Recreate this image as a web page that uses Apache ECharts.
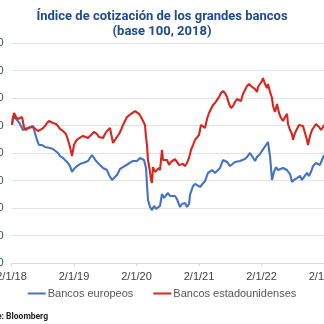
<!DOCTYPE html>
<html><head><meta charset="utf-8">
<script src="https://cdn.jsdelivr.net/npm/echarts@6/dist/echarts.min.js"></script>
<style>html,body{margin:0;padding:0;background:#fff}#c{width:324px;height:324px}</style>
</head><body><div id="c"></div>
<script>
const titleText = "Índice de cotización de los grandes bancos\n(base 100, 2018)";
const sourceText = "Fuente: Bloomberg";
const seriesNames = ["Bancos europeos", "Bancos estadounidenses"];
const yTicks = [0, 20, 40, 60, 80, 100, 120, 140, 160];
const xTickYears = [2018, 2019, 2020, 2021, 2022, 2023];

const euYears = [2018.008,2018.024,2018.056,2018.088,2018.136,2018.184,2018.216,2018.264,2018.296,2018.344,2018.376,2018.408,2018.440,2018.488,2018.536,2018.568,2018.616,2018.664,2018.696,2018.744,2018.776,2018.824,2018.856,2018.904,2018.936,2018.968,2019.000,2019.048,2019.096,2019.144,2019.176,2019.224,2019.256,2019.288,2019.320,2019.352,2019.384,2019.416,2019.464,2019.496,2019.528,2019.560,2019.608,2019.640,2019.688,2019.736,2019.784,2019.816,2019.864,2019.896,2019.944,2019.976,2020.008,2020.056,2020.088,2020.120,2020.152,2020.168,2020.184,2020.216,2020.248,2020.280,2020.312,2020.344,2020.376,2020.408,2020.440,2020.472,2020.504,2020.536,2020.568,2020.616,2020.648,2020.696,2020.728,2020.776,2020.808,2020.840,2020.856,2020.904,2020.936,2020.968,2021.016,2021.048,2021.096,2021.144,2021.176,2021.208,2021.256,2021.304,2021.336,2021.384,2021.416,2021.448,2021.496,2021.528,2021.576,2021.608,2021.656,2021.688,2021.736,2021.768,2021.816,2021.848,2021.896,2021.928,2021.976,2022.008,2022.040,2022.072,2022.104,2022.136,2022.168,2022.200,2022.232,2022.264,2022.296,2022.344,2022.376,2022.408,2022.456,2022.488,2022.520,2022.568,2022.616,2022.648,2022.680,2022.728,2022.760,2022.792,2022.824,2022.872,2022.904,2022.936,2022.968,2023.000];
const euValues = [100.4,106.9,107.6,104.0,101.1,96.7,95.3,98.2,98.9,99.6,98.2,89.5,85.8,85.8,84.4,85.8,83.6,82.9,82.2,80.0,77.8,76.4,74.9,72.7,70.5,66.2,68.4,70.5,72.0,72.7,72.7,74.2,76.4,78.5,76.4,74.2,72.7,71.3,69.1,69.1,67.6,64.0,60.4,61.8,64.0,68.4,69.8,70.5,72.0,72.7,74.2,74.9,74.2,76.4,77.8,74.9,69.1,56.7,45.8,40.7,38.5,41.5,39.3,38.5,41.5,50.2,47.3,48.7,50.9,48.7,48.0,48.7,46.5,40.7,42.9,43.6,40.7,42.9,49.5,56.0,57.5,58.2,55.3,56.0,59.6,65.5,66.9,67.6,65.5,67.6,69.1,74.9,74.2,73.5,70.5,69.8,73.5,74.9,74.2,73.5,75.6,77.1,80.0,77.8,74.2,77.1,79.3,81.5,82.9,85.8,88.0,77.8,60.4,66.2,69.8,67.6,66.2,69.1,68.4,67.6,64.7,58.9,60.4,61.8,63.3,60.4,59.6,65.5,63.3,66.2,70.5,72.7,72.0,71.3,74.9,78.5];

const usYears = [2018.008,2018.040,2018.072,2018.104,2018.136,2018.168,2018.200,2018.232,2018.264,2018.296,2018.344,2018.376,2018.424,2018.456,2018.488,2018.536,2018.568,2018.600,2018.632,2018.664,2018.712,2018.744,2018.776,2018.824,2018.872,2018.904,2018.936,2018.968,2019.000,2019.032,2019.064,2019.096,2019.144,2019.176,2019.224,2019.256,2019.288,2019.320,2019.368,2019.400,2019.432,2019.464,2019.496,2019.528,2019.576,2019.608,2019.624,2019.656,2019.688,2019.720,2019.752,2019.784,2019.816,2019.848,2019.880,2019.912,2019.944,2019.976,2020.008,2020.040,2020.072,2020.104,2020.136,2020.152,2020.168,2020.184,2020.216,2020.232,2020.248,2020.264,2020.296,2020.328,2020.360,2020.376,2020.408,2020.424,2020.456,2020.488,2020.520,2020.552,2020.584,2020.616,2020.648,2020.680,2020.712,2020.744,2020.776,2020.808,2020.840,2020.872,2020.904,2020.936,2020.968,2021.000,2021.032,2021.064,2021.096,2021.128,2021.160,2021.192,2021.224,2021.256,2021.288,2021.320,2021.352,2021.384,2021.416,2021.448,2021.480,2021.512,2021.544,2021.576,2021.608,2021.640,2021.672,2021.704,2021.736,2021.768,2021.800,2021.832,2021.864,2021.896,2021.928,2021.944,2021.976,2022.008,2022.024,2022.056,2022.088,2022.104,2022.136,2022.168,2022.184,2022.216,2022.248,2022.280,2022.312,2022.344,2022.376,2022.408,2022.424,2022.456,2022.488,2022.504,2022.536,2022.568,2022.600,2022.632,2022.664,2022.696,2022.728,2022.744,2022.776,2022.808,2022.840,2022.872,2022.888,2022.920,2022.952,2022.984,2023.000];
const usValues = [100.4,109.1,106.2,104.7,105.5,106.2,98.9,96.7,98.2,98.2,98.9,98.2,96.0,95.3,97.5,99.6,101.8,103.3,102.5,101.8,101.1,99.6,97.5,96.0,93.8,89.5,84.4,77.8,85.8,88.7,90.2,91.6,92.4,93.1,90.9,90.2,93.8,95.3,93.8,91.6,90.9,90.9,93.8,96.0,98.2,90.9,87.3,89.5,90.9,93.8,96.7,100.4,103.3,106.2,106.9,108.4,109.1,110.5,111.3,108.4,106.2,105.5,100.4,91.6,85.8,74.9,66.2,60.4,58.2,69.8,66.2,65.5,69.1,67.6,82.2,74.9,73.5,74.9,71.3,73.5,74.9,75.6,74.2,71.3,72.7,72.0,70.5,72.7,76.4,82.2,85.8,89.5,90.2,93.1,100.4,101.8,98.2,104.7,109.1,112.0,114.9,116.4,117.8,120.7,123.6,125.1,123.6,120.7,115.6,112.7,114.2,117.1,119.3,120.7,117.8,122.9,125.8,128.7,130.2,128.7,128.7,126.5,124.4,128.0,130.2,132.4,134.5,130.2,127.3,130.2,124.4,120.0,114.2,109.8,115.6,109.1,105.5,103.3,106.2,108.4,101.1,96.7,93.8,89.5,94.5,97.5,100.4,101.8,99.6,94.5,89.5,85.8,92.4,96.7,98.9,101.1,102.5,98.9,96.7,98.9,100.4];

const zip = (xs, ys) => xs.map((x, i) => [x, ys[i]]);
const chart = echarts.init(document.getElementById('c'), null, {renderer: 'canvas'});
const fontFam = 'Liberation Sans, Arial, sans-serif';
chart.setOption({
  animation: false,
  backgroundColor: '#ffffff',
  title: {
    text: titleText, left: 'center', top: 4,
    textStyle: {fontFamily: 'Liberation Sans Narrow, Roboto, sans-serif', fontWeight: 'bold', fontSize: 13, lineHeight: 15, color: '#1F4A8C'}
  },
  legend: {
    bottom: 20, left: 'center', itemWidth: 18, itemHeight: 2, itemGap: 20, icon: 'rect',
    textStyle: {fontFamily: fontFam, fontSize: 11, color: '#555555', padding: [0, 0, 0, -3]},
    data: seriesNames
  },
  graphic: [{type: 'text', x: 48, y: 312, style: {text: sourceText, align: 'right', fill: '#222', font: 'bold 8.5px "Liberation Sans Narrow", Roboto, sans-serif'}}],
  grid: {left: 11.5, top: 43, width: 62.5 * 5.2, height: 220, containLabel: false, outerBoundsMode: 'none'},
  xAxis: {
    type: 'value', min: xTickYears[0], max: 2023.2, interval: 1,
    axisLine: {lineStyle: {color: '#D9D9D9'}},
    axisTick: {show: true, length: 3, lineStyle: {color: '#D9D9D9'}},
    splitLine: {show: false},
    axisLabel: {margin: 8, fontFamily: fontFam, fontSize: 11, color: '#404040', hideOverlap: false,
      formatter: v => (Math.abs(v - Math.round(v)) < 1e-6 && xTickYears.includes(Math.round(v))) ? '2/1/' + String(Math.round(v) - 2000) : ''}
  },
  yAxis: {
    type: 'value', min: yTicks[0], max: yTicks[yTicks.length - 1], interval: 20,
    axisLine: {show: false}, axisTick: {show: false},
    splitLine: {lineStyle: {color: '#E3E3E3', width: 1}},
    axisLabel: {margin: 8, fontFamily: fontFam, fontSize: 11, color: '#3B4A6B'}
  },
  series: [
    {name: seriesNames[0], type: 'line', data: zip(euYears, euValues), showSymbol: false, lineStyle: {color: '#4472C4', width: 2.1}, itemStyle: {color: '#4472C4'}},
    {name: seriesNames[1], type: 'line', data: zip(usYears, usValues), showSymbol: false, lineStyle: {color: '#D7261E', width: 2.1}, itemStyle: {color: '#D7261E'}}
  ]
});
</script></body></html>
